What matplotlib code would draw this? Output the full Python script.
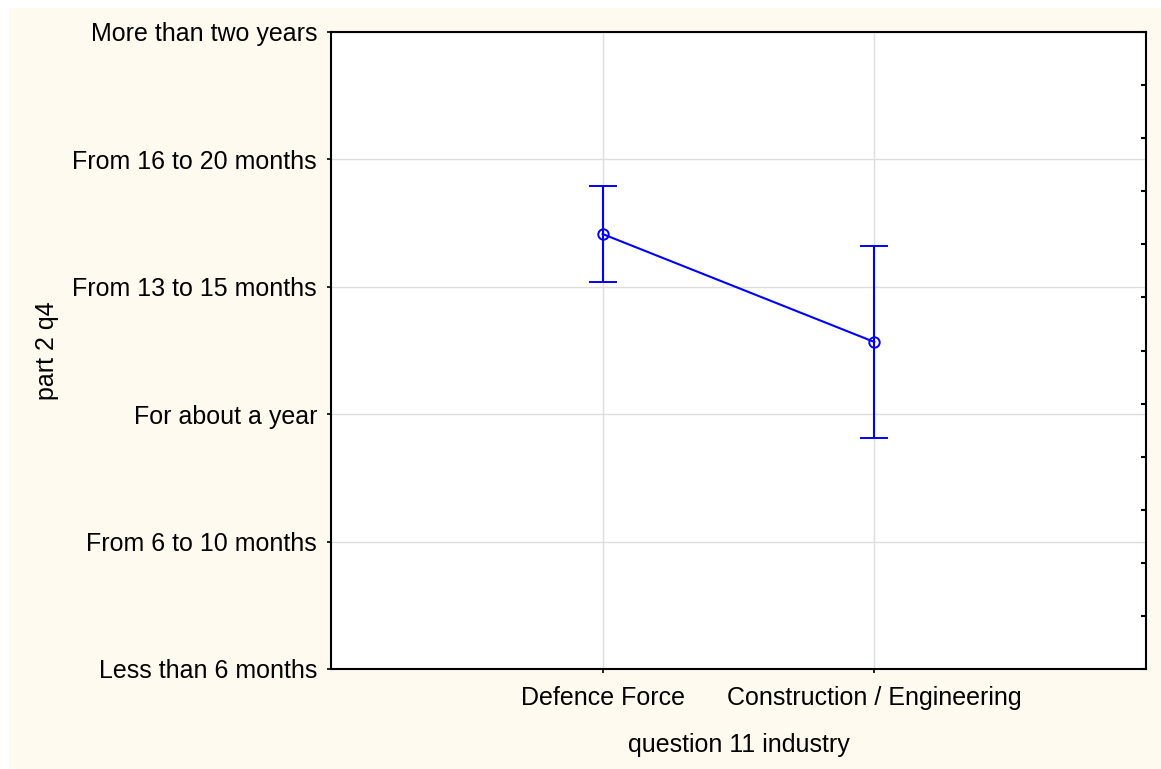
import numpy as np
import matplotlib.pyplot as plt
from matplotlib.patches import Rectangle

plt.rcParams['font.family'] = ['Liberation Sans', 'DejaVu Sans']

# Mean response and 95% CI per industry group
industries = ['Defence Force', 'Construction / Engineering']
means = [4.414, 3.567]
ci_upper = [4.790, 4.320]
ci_lower = [4.036, 2.810]

duration_labels = ['Less than 6 months', 'From 6 to 10 months', 'For about a year',
                   'From 13 to 15 months', 'From 16 to 20 months', 'More than two years']

fig = plt.figure(figsize=(11.61, 7.69), dpi=100, facecolor='white')
fig.patches.append(Rectangle((9 / 1161, 0), 1, 1 - 8 / 769, transform=fig.transFigure,
                             facecolor='#FFFAF0', edgecolor='none', zorder=-10))

ax = fig.add_axes([331 / 1161, 1 - 669 / 769, 815 / 1161, 637 / 769])
ax.set_facecolor('white')

x = np.arange(len(industries))
yerr = [np.array(means) - np.array(ci_lower), np.array(ci_upper) - np.array(means)]
ax.errorbar(x, means, yerr=yerr, color='#0000FF', linewidth=1.5, elinewidth=1.5,
            capsize=10, capthick=1.5, marker='o', markersize=7.5,
            markerfacecolor='none', markeredgecolor='#0000FF', markeredgewidth=1.4,
            zorder=3)

ax.set_xlim(-1, 2)
ax.set_ylim(1, 6)
ax.set_xticks(x)
ax.set_xticklabels(industries)
ax.set_yticks(range(1, 7))
ax.set_yticklabels(duration_labels)
ax.tick_params(axis='both', labelsize=18, length=3, width=1.2, direction='out')
ax.tick_params(axis='y', pad=7)
ax.tick_params(axis='x', pad=9)
ax.grid(True, color='#DDDDDD', linewidth=1)
ax.set_axisbelow(True)

for sp in ax.spines.values():
    sp.set_linewidth(1.5)
    sp.set_color('black')

ax.set_xlabel('question 11 industry', fontsize=18, labelpad=17)
ax.set_ylabel('part 2 q4', fontsize=18)
ax.yaxis.set_label_coords(-0.334, 0.5)

# inner ticks along the right edge
ax2 = ax.twinx()
ax2.set_ylim(0, 12)
ax2.set_yticks(range(13))
ax2.set_yticklabels([])
ax2.tick_params(axis='y', direction='in', length=3.5, width=1.5)
for sp in ax2.spines.values():
    sp.set_visible(False)

fig.savefig('out.png', dpi=100, facecolor=fig.get_facecolor())
